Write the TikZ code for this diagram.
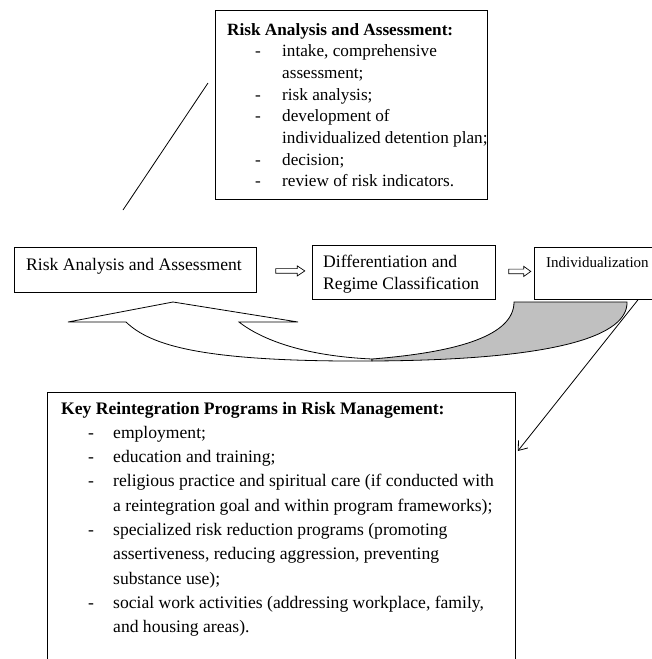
\documentclass[tikz,border=0pt]{standalone}
\usepackage{fontspec}
\setmainfont{Liberation Serif}
\usetikzlibrary{arrows.meta,calc}
\definecolor{ribbongray}{RGB}{192,192,192}
\begin{document}
\begin{tikzpicture}[x=1pt,y=-1pt,
  box/.style={draw=black, line width=0.8pt, fill=white, inner sep=0pt, anchor=north west},
  label/.style={anchor=base west, inner sep=0pt},
  boxfont/.style={font=\fontsize{17.6}{22}\selectfont},
  edge/.style={draw=black, line width=0.8pt},
  hollow/.style={draw=black, line width=0.7pt, fill=white, line join=miter},
]
\useasboundingbox (0,0) rectangle (652,659);

% frames
\node[box, minimum width=272pt, minimum height=189pt] (top) at (215,10) {};
\node[box, minimum width=242pt, minimum height=45pt] (b1) at (14,247) {};
\node[box, minimum width=183pt, minimum height=54pt] (b2) at (312,245) {};
\node[box, minimum width=130pt, minimum height=52pt] (b3) at (534,247) {};
\node[box, minimum width=468pt, minimum height=300pt] (bot) at (47,392) {};

% texts
\node[label, font=\fontsize{17.2}{21.7}\selectfont] (toptext) at (227,35) {%
  \begin{tabular}[t]{@{\hspace{28pt}}l@{}l@{}}
  \multicolumn{2}{@{}l@{}}{\bfseries Risk Analysis and Assessment:}\\
  \makebox[27pt][l]{-} & intake, comprehensive\\
   & assessment;\\
  - & risk analysis;\\
  - & development of\\
   & individualized detention plan;\\
  - & decision;\\
  - & review of risk indicators.
  \end{tabular}};
\node[label, boxfont] (t1) at (26,270) {Risk Analysis and Assessment};
\node[label, boxfont] (t2) at (323,267) {%
  \begin{tabular}[t]{@{}l@{}}Differentiation and\\ Regime Classification\end{tabular}};
\node[label, font=\fontsize{15}{18}\selectfont] (t3) at (546,267) {Individualization};
\node[label, font=\fontsize{17.6}{24.3}\selectfont] (bottext) at (61,414) {%
  \begin{tabular}[t]{@{\hspace{27pt}}l@{}l@{}}
  \multicolumn{2}{@{}l@{}}{\bfseries Key Reintegration Programs in Risk Management:}\\
  \makebox[25pt][l]{-} & employment;\\
  - & education and training;\\
  - & religious practice and spiritual care (if conducted with\\
   & a reintegration goal and within program frameworks);\\
  - & specialized risk reduction programs (promoting\\
   & assertiveness, reducing aggression, preventing\\
   & substance use);\\
  - & social work activities (addressing workplace, family,\\
   & and housing areas).
  \end{tabular}};

% hollow arrows between the stages
\coordinate (ar1) at ($(b1.east)+(19,1)$);
\draw[hollow] (ar1) ++(0,-2.3) -- ++(21.5,0) -- ++(0,-2.7) -- ++(7.5,5)
  -- ++(-7.5,5) -- ++(0,-2.7) -- ++(-21.5,0) -- cycle;
\coordinate (ar2) at ($(b2.east)+(13,-1)$);
\draw[hollow] (ar2) ++(0,-2.3) -- ++(15,0) -- ++(0,-2.7) -- ++(7,5)
  -- ++(-7,5) -- ++(0,-2.7) -- ++(-15,0) -- cycle;

% curved return arrow (front face)
\filldraw[fill=white, line width=0.8pt, line join=miter]
  (68,322) -- (173,302) -- (298,322) -- (239,322)
  .. controls (262,340) and (305,356) .. (372,359)
  -- (372,361) .. controls (200,362) and (150,345) .. (126,322) -- cycle;
% curved return arrow (back face)
\filldraw[fill=ribbongray, line width=0.8pt]
  (372,359) .. controls (460,352) and (514,335) .. (514,302)
  -- (627,302) .. controls (628,335) and (560,360) .. (372,361) -- cycle;

% callout lines
\coordinate (c1a) at (208,83);
\coordinate (c1b) at (123,210);
\draw[edge] (c1a) -- (c1b);
\coordinate (c2a) at ($(b3.south west)+(104,0)$);
\coordinate (c2b) at ($(bot.north east)+(2,59)$);
\draw[edge, -{Straight Barb[length=8pt,width=12pt]}] (c2a) -- (c2b);
\end{tikzpicture}
\end{document}
